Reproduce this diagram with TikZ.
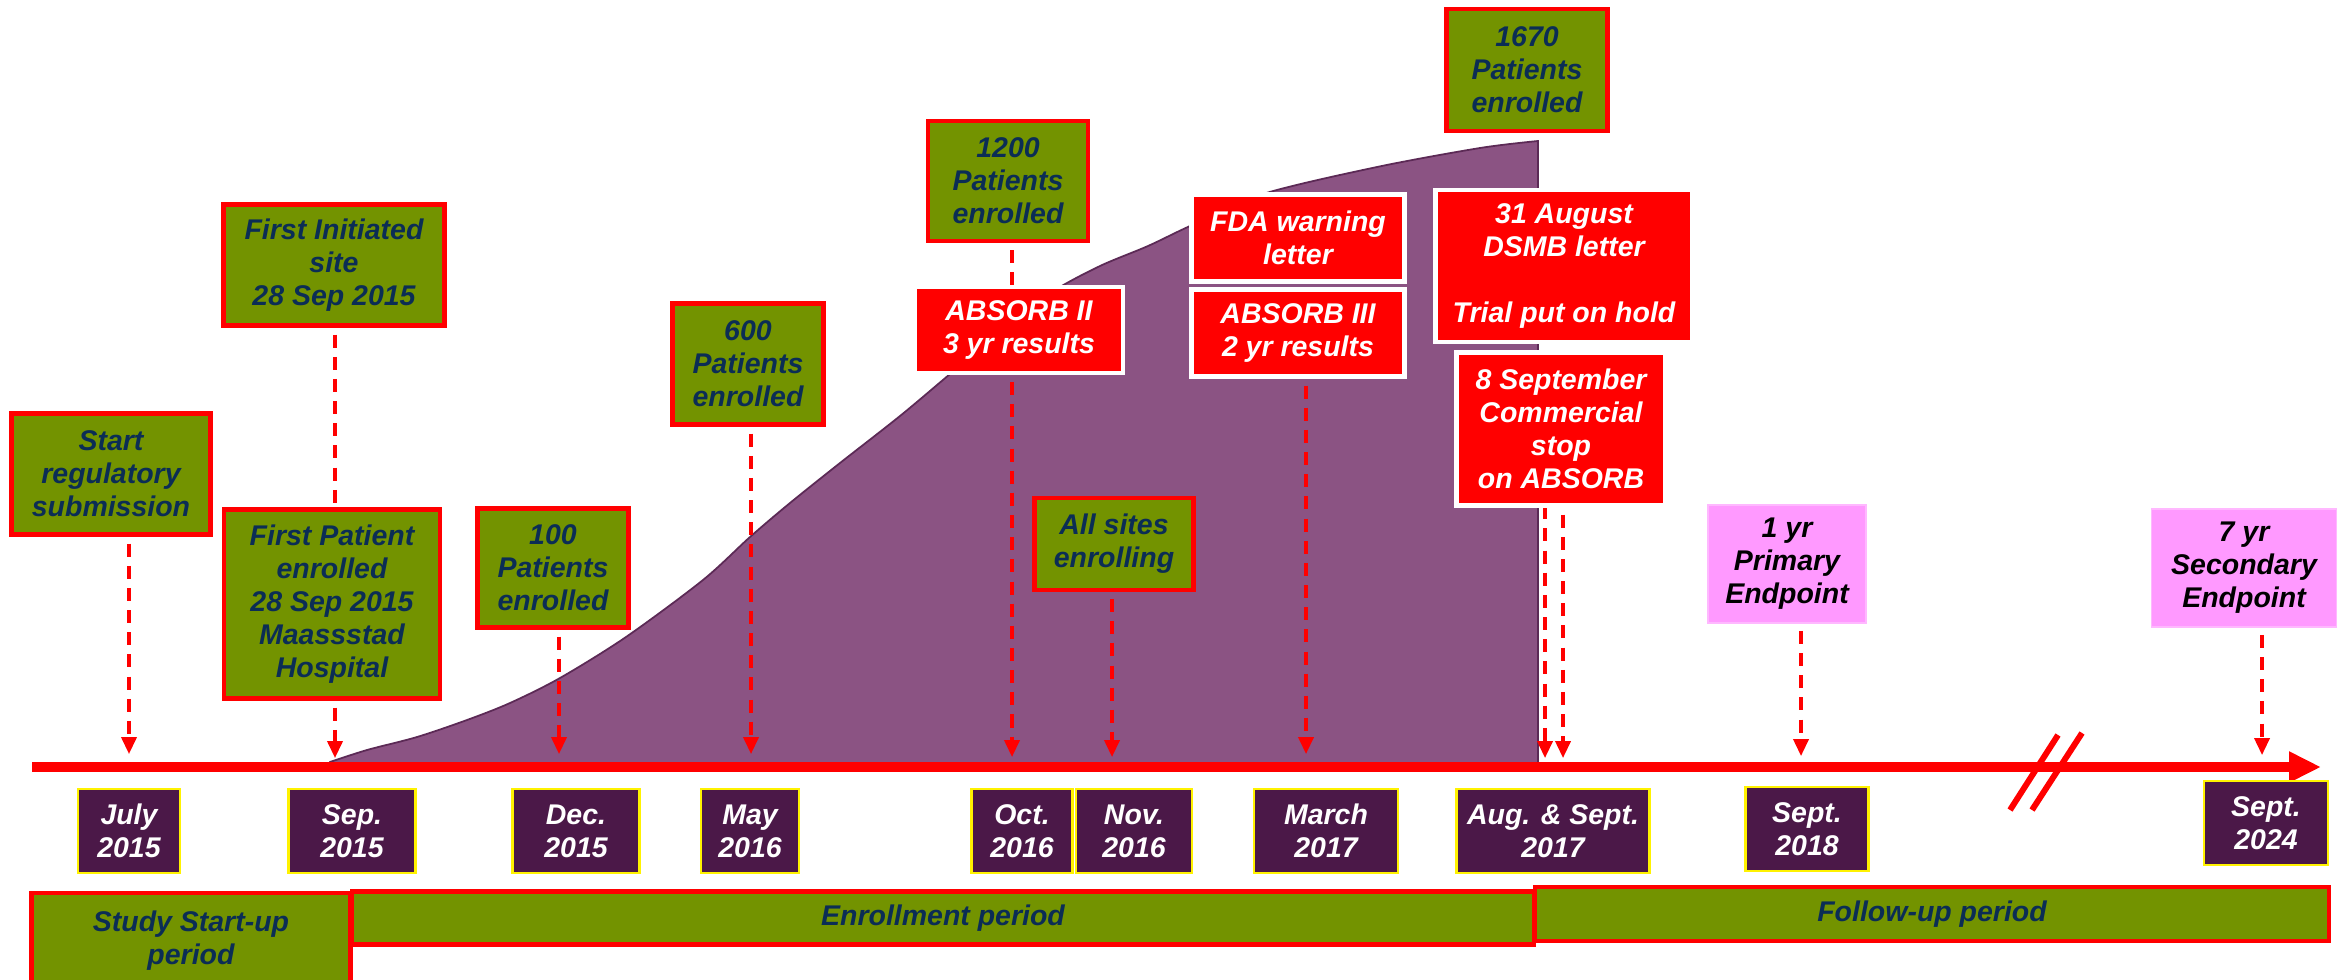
\documentclass[tikz,border=0pt]{standalone}
\usepackage{fontspec}
\setmainfont{Liberation Sans}
\usepackage{tikz}
\usetikzlibrary{
    arrows.meta,
    backgrounds,
    calc
}
\definecolor{boxgreen}{HTML}{739300}
\definecolor{boxnavy}{HTML}{0B2D55}
\definecolor{datepurple}{HTML}{4B1848}
\definecolor{areapurple}{HTML}{8B5383}
\definecolor{areaedge}{HTML}{5C2A56}
\definecolor{endpointpink}{HTML}{FF99FF}
\definecolor{alertred}{HTML}{FF0000}
\newcommand{\labelfont}{\fontsize{8.1}{9.4}\selectfont\bfseries\itshape}
\tikzstyle{milestone} = [
    rectangle,
    draw=alertred,
    line width=1.2pt,
    fill=boxgreen,
    text=boxnavy,
    align=center,
    inner sep=1pt,
    font=\labelfont
]
\tikzstyle{alertbox} = [
    rectangle,
    draw=white,
    line width=1.2pt,
    fill=alertred,
    text=white,
    align=center,
    inner sep=1pt,
    font=\labelfont
]
\tikzstyle{endpointbox} = [
    rectangle,
    draw=endpointpink!70!white,
    line width=0.5pt,
    fill=endpointpink,
    text=black,
    align=center,
    inner sep=1pt,
    font=\labelfont
]
\tikzstyle{datebox} = [
    rectangle,
    draw=yellow,
    line width=0.7pt,
    fill=datepurple,
    text=white,
    align=center,
    inner sep=1pt,
    minimum height=0.84cm,
    font=\labelfont
]
\tikzstyle{periodbar} = [
    rectangle,
    draw=alertred,
    line width=1.2pt,
    fill=boxgreen,
    text=boxnavy,
    align=center,
    font=\labelfont
]
\tikzstyle{evarrow} = [
    ->,
    >={Triangle[length=4.8pt,width=4.3pt]},
    draw=alertred,
    line width=0.9pt,
    dash pattern=on 3.7pt off 2.6pt,
    shorten <=2pt
]
\tikzstyle{evlink} = [
    draw=alertred,
    line width=0.9pt,
    dash pattern=on 3.7pt off 2.6pt,
    shorten <=2pt
]
\tikzstyle{axisline} = [
    ->,
    >={Triangle[length=0.32cm,width=0.29cm]},
    draw=alertred,
    line width=0.1cm
]

\begin{document}
\begin{tikzpicture}[x=0.01cm, y=-0.01cm]
    \useasboundingbox (0,0) rectangle (2349,979);

    % Milestones above the axis
    \node[milestone, minimum width=1.99cm, minimum height=1.21cm] (startreg) at (111,474) {Start\\regulatory\\submission};
    \node[milestone, minimum width=2.21cm, minimum height=1.21cm] (firstsite) at (334,265) {First Initiated\\site\\28 Sep 2015};
    \node[milestone, minimum width=2.16cm, minimum height=1.89cm] (firstpat) at (332,604) {First Patient\\enrolled\\28 Sep 2015\\Maassstad\\Hospital};
    \node[milestone, minimum width=1.51cm, minimum height=1.19cm] (p100) at (553,568) {100\\Patients\\enrolled};
    \node[milestone, minimum width=1.51cm, minimum height=1.21cm] (p600) at (748,364) {600\\Patients\\enrolled};
    \node[milestone, minimum width=1.60cm, minimum height=1.20cm] (p1200) at (1008,181) {1200\\Patients\\enrolled};
    \node[milestone, minimum width=1.59cm, minimum height=0.92cm] (allsites) at (1114,544) {All sites\\enrolling};
    \node[milestone, minimum width=1.61cm, minimum height=1.22cm] (p1670) at (1527,70) {1670\\Patients\\enrolled};

    % Safety events
    \node[alertbox, minimum width=2.08cm, minimum height=0.86cm] (absorbii) at (1019,330) {ABSORB II\\3 yr results};
    \node[alertbox, minimum width=2.13cm, minimum height=0.87cm] (fda) at (1298,238) {FDA warning\\letter};
    \node[alertbox, minimum width=2.13cm, minimum height=0.87cm] (absorbiii) at (1298,333) {ABSORB III\\2 yr results};
    \node[alertbox, minimum width=2.57cm, minimum height=1.52cm] (dsmb) at (1564,266) {31 August\\DSMB letter\\[9.4pt]Trial put on hold};
    \node[alertbox, minimum width=2.09cm, minimum height=1.53cm] (commstop) at (1561,429) {8 September\\Commercial\\stop\\on ABSORB};

    % Endpoints
    \node[endpointbox, minimum width=1.58cm, minimum height=1.18cm] (endpoint1) at (1787,564) {1 yr\\Primary\\Endpoint};
    \node[endpointbox, minimum width=1.85cm, minimum height=1.18cm] (endpoint7) at (2244,568) {7 yr\\Secondary\\Endpoint};

    % Dates below the axis
    \node[datebox, minimum width=1.02cm] (jul15) at (129,831) {July\\2015};
    \node[datebox, minimum width=1.27cm] (sep15) at (352,831) {Sep.\\2015};
    \node[datebox, minimum width=1.27cm] (dec15) at (576,831) {Dec.\\2015};
    \node[datebox, minimum width=0.98cm] (may16) at (750,831) {May\\2016};
    \node[datebox, minimum width=1.01cm] (oct16) at (1022,831) {Oct.\\2016};
    \node[datebox, minimum width=1.16cm] (nov16) at (1134,831) {Nov.\\2016};
    \node[datebox, minimum width=1.44cm] (mar17) at (1326,831) {March\\2017};
    \node[datebox, minimum width=1.93cm] (aug17) at (1553,831) {Aug. \& Sept.\\2017};
    \node[datebox, minimum width=1.23cm] (sep18) at (1807,829) {Sept.\\2018};
    \node[datebox, minimum width=1.24cm] (sep24) at (2266,823) {Sept.\\2024};

    % Periods
    \node[periodbar, minimum width=3.19cm, minimum height=0.96cm] (startup) at (191,941) {Study Start-up\\period};
    \node[periodbar, minimum width=11.82cm, minimum height=0.53cm] (enroll) at (943,918) {Enrollment period};
    \node[periodbar, minimum width=7.93cm, minimum height=0.54cm] (followup) at (1932,914) {Follow-up period};

    % Axis and ticks
    \coordinate (axisstart) at (32,767);
    \coordinate (axisend) at (2321,767);
    \coordinate (tjul) at (129,754);
    \coordinate (tsep) at (335,758);
    \coordinate (tdec) at (559,754);
    \coordinate (tmay) at (751,754);
    \coordinate (toct) at (1012,757);
    \coordinate (tnov) at (1112,757);
    \coordinate (tmar) at (1306,754);
    \coordinate (taug) at (1545,758);
    \coordinate (tsept) at (1563,758);
    \coordinate (tsep18) at (1801,756);
    \coordinate (tsep24) at (2262,755);

    \begin{pgfonlayer}{background}
        % Enrolment curve
        \filldraw[fill=areapurple, draw=areaedge, line width=0.5pt] (330,764) -- plot[smooth] coordinates {(330,762) (367,750) (417,737) (467,720) (510,703) (560,678) (626,637) (703,580) (750,537) (790,503) (840,463) (900,416) (950,374) (1000,332) (1052,292) (1100,266) (1148,246) (1190,226) (1263,194) (1377,167) (1480,148) (1538,141)} -- (1538,764) -- cycle;
        \draw[axisline] (axisstart) -- (axisend);

        % Arrows
        \draw[evarrow] (startreg.south -| tjul) -- (tjul);
        \draw[evlink] (firstsite.south -| tsep) -- (firstpat.north -| tsep);
        \draw[evarrow] (firstpat.south -| tsep) -- (tsep);
        \draw[evarrow] (p100.south -| tdec) -- (tdec);
        \draw[evarrow] (p600.south -| tmay) -- (tmay);
        \draw[evlink] (p1200.south -| toct) -- (absorbii.north -| toct);
        \draw[evarrow] (absorbii.south -| toct) -- (toct);
        \draw[evarrow] (allsites.south -| tnov) -- (tnov);
        \draw[evarrow] (absorbiii.south -| tmar) -- (tmar);
        \draw[evarrow] (dsmb.south -| taug) -- (taug);
        \draw[evarrow] (commstop.south -| tsept) -- (tsept);
        \draw[evarrow] (endpoint1.south -| tsep18) -- (tsep18);
        \draw[evarrow] (endpoint7.south -| tsep24) -- (tsep24);
    \end{pgfonlayer}

    % Break in the time axis
    \draw[alertred, line width=1.7pt] (2010,810) -- (2058,735);
    \draw[alertred, line width=1.7pt] (2032,810) -- (2082,733);
\end{tikzpicture}
\end{document}
